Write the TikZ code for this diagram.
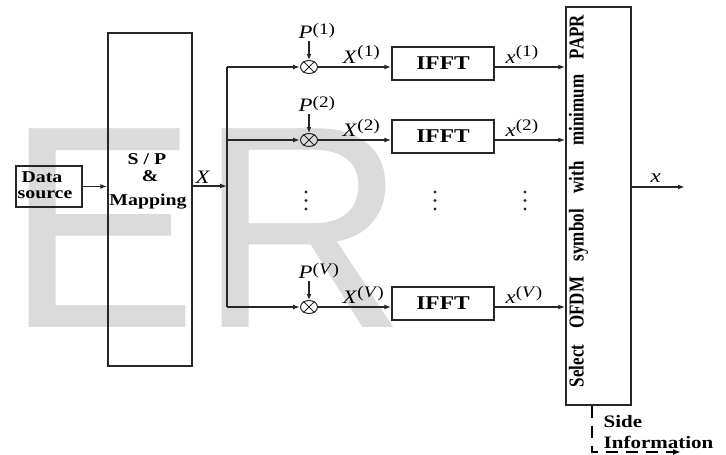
\documentclass[tikz,border=0pt]{standalone}
\usepackage{fontspec}
\setmainfont{Liberation Serif}
\newfontfamily\wmfont{Liberation Sans}
\usepackage{graphicx}
\usetikzlibrary{arrows.meta,shapes.geometric}
\newcommand{\hs}[1]{\scalebox{1.2}[1]{#1}}
\newcommand{\supr}[2]{\raisebox{#1}{\fontsize{16}{16}\selectfont #2}}
\begin{document}
\begin{tikzpicture}[x=1pt,y=-1pt,
  line width=1.4pt,
  box/.style={draw=black!85, line width=1.4pt, inner sep=0pt},
  arr/.style={draw=black!85, -{Latex[length=7pt,width=5pt]}},
  lbl/.style={inner sep=0pt, anchor=base west, font=\fontsize{19}{20}\selectfont},
  bt/.style={inner sep=0pt, anchor=base, font=\fontsize{16.5}{17}\selectfont\bfseries},
  mul/.style={draw=black!85, ellipse, minimum width=17pt, minimum height=13pt, inner sep=0pt, line width=1pt},
  dotm/.style={fill=black!85, draw=none, circle, inner sep=0pt, minimum size=3.4pt},
]
\useasboundingbox (0,0) rectangle (726,455);
% watermark
\node[anchor=base west, inner sep=0pt, text=black!14, font=\wmfont\fontsize{289}{289}\selectfont] (wm) at (5,327) {ER};

% boxes
\node[box, minimum width=66pt, minimum height=41pt] (ds) at (49,186.5) {};
\node[bt] (ds1) at (42,182) {\hs{Data}};
\node[bt] (ds2) at (45,198) {\hs{source}};

\node[box, minimum width=84pt, minimum height=333pt] (sp) at (150,199.5) {};
\node[bt] (sp1) at (147,164) {\hs{S / P}};
\node[bt] (sp2) at (150,181) {\hs{\&}};
\node[bt] (sp3) at (148,205) {\hs{Mapping}};

\node[box, minimum width=65pt, minimum height=398pt] (sel) at (598.5,206) {};
\node[inner sep=0pt, rotate=90, font=\fontsize{17}{18}\selectfont\bfseries] (selt) at (578.5,201)
  {\scalebox{1}[1.25]{\makebox[372pt][s]{Select OFDM symbol with minimum PAPR}}};

% main flow
\draw[arr] (ds.east) -- (sp.west |- ds.east);
\coordinate (bt) at (227,67);
\coordinate (bm) at (227,186);
\coordinate (bb) at (227,307);
\draw[arr] (sp.east |- bm) -- (bm);
\draw[draw=black!85] (bt) -- (bb);
\node[lbl] (X) at (195,183) {\hs{\textit{X}}};

% branches
\foreach \i/\y/\s in {1/67/1, 2/140/2, 3/307/\textit{V}} {
  \node[mul] (m\i) at (309,\y) {};
  \draw[line width=0.8pt, draw=black!85] (m\i.45) -- (m\i.225) (m\i.135) -- (m\i.315);
  \coordinate (b\i) at (227,\y);
  \draw[arr] (b\i) -- (m\i.west);
  \coordinate (p\i) at (309,\y-26);
  \draw[draw=black!85, line width=1.2pt, -{Latex[length=6pt,width=5pt]}] (p\i) -- (m\i.north);
  \node[lbl] (P\i) at (298,\y-29) {\hs{\textit{P}\supr{3.5pt}{(\s)}}};
  \node[box, minimum width=102pt, minimum height=33pt, font=\fontsize{19.5}{20}\selectfont\bfseries] (f\i) at (443,\y-3.5) {\hs{IFFT}};
  \draw[arr] (m\i.east) -- (f\i.west |- m\i);
  \node[lbl] (Xi\i) at (342,\y-4) {\hs{\textit{X}\supr{6pt}{(\s)}}};
  \draw[arr] (f\i.east |- m\i) -- (sel.west |- m\i);
  \node[lbl] (xi\i) at (505,\y-4) {\hs{\textit{x}\supr{6pt}{(\s)}}};
}

% dots
\foreach \xx/\n in {306/a, 435/b, 525/c} {
  \node[dotm] (d\n1) at (\xx,192) {};
  \node[dotm] (d\n2) at (\xx,200.5) {};
  \node[dotm] (d\n3) at (\xx,209) {};
}

% output
\coordinate (xo) at (685,187);
\draw[arr] (sel.east |- xo) -- (xo);
\node[lbl] (xout) at (650,182) {\hs{\textit{x}}};

% side information
\coordinate (sd) at (592,452);
\coordinate (se) at (681,452);
\draw[draw=black, line width=2.2pt, dash pattern=on 12pt off 8pt, -{Latex[length=8pt,width=6pt]}]
  (sel.south -| sd) -- (sd) -- (se);
\node[inner sep=0pt, anchor=base west, font=\fontsize{17.5}{18}\selectfont\bfseries] (si1) at (603,427) {\hs{Side}};
\node[inner sep=0pt, anchor=base west, font=\fontsize{17.5}{18}\selectfont\bfseries] (si2) at (603,448) {\hs{Information}};
\end{tikzpicture}
\end{document}
